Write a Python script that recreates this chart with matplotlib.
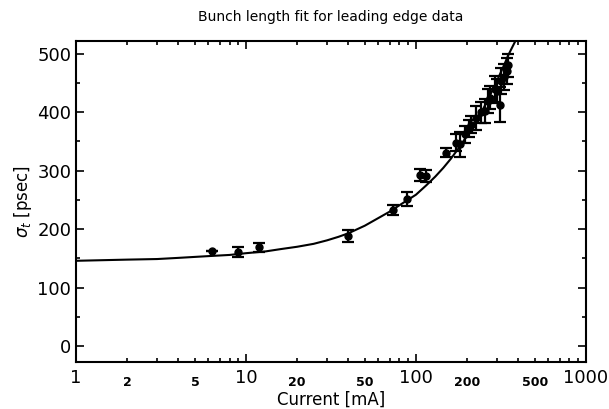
import numpy as np
import matplotlib
matplotlib.use("Agg")
import matplotlib.pyplot as plt
from matplotlib.ticker import FixedLocator, NullFormatter, MultipleLocator

# fit curve
fit_current = [1, 2, 3, 4, 6, 8, 10, 13, 16, 20, 25, 30, 35, 40, 50, 60, 70, 80,
               100, 115, 130, 145, 160, 180, 200, 225, 250, 275, 300, 325, 350, 370, 385]
fit_sigma = [146, 148, 149, 151, 154, 156, 159, 162, 166, 170, 175, 181, 187, 193,
             206, 219, 230, 241, 259, 275, 290, 305, 320, 340, 360, 384, 407, 431,
             454, 476, 498, 512, 522]

# measured points
current = [6.3, 9.0, 11.9, 40, 73, 88, 106, 114, 151, 172, 181, 194, 205, 212, 225,
           240, 254, 265, 272, 290, 298, 311, 318, 330, 342, 350]
sigma = [162, 161, 169, 188, 233, 251, 293, 291, 331, 348, 345, 362, 372, 379, 390,
         400, 402, 419, 425, 440, 436, 413, 453, 460, 470, 480]
sigma_err = [0, 8, 8, 10, 8, 12, 10, 10, 8, 15, 22, 15, 15, 15, 20,
             18, 20, 20, 20, 22, 20, 30, 22, 22, 22, 20]

major_x = [1, 10, 100, 1000]
minor_x_labels = [2, 5, 20, 50, 200, 500]

fig = plt.figure(figsize=(6.09, 4.09), dpi=100)
ax = fig.add_axes([0.125, 0.115, 0.837, 0.785])

ax.plot(fit_current, fit_sigma, color="black", lw=1.5)
ax.errorbar(current, sigma, yerr=sigma_err, fmt="o", color="black", ms=5,
            elinewidth=1.6, capsize=4, capthick=1.6)

ax.set_xscale("log")
ax.set_xlim(1, 1000)
ax.set_ylim(-27, 522)

ax.xaxis.set_major_locator(FixedLocator(major_x))
ax.set_xticklabels([str(v) for v in major_x], fontsize=13)
minors = [m * d for d in [1, 10, 100] for m in range(2, 10)]
ax.xaxis.set_minor_locator(FixedLocator(minors))
ax.xaxis.set_minor_formatter(NullFormatter())
for v in minor_x_labels:
    ax.text(v, -0.045, str(v), transform=ax.get_xaxis_transform(),
            ha="center", va="top", fontsize=9, fontweight="bold")

ax.yaxis.set_major_locator(MultipleLocator(100))
ax.yaxis.set_minor_locator(MultipleLocator(50))
ax.tick_params(axis="y", labelsize=13)

ax.tick_params(which="both", direction="in", top=True, right=True, width=1.2)
ax.tick_params(which="major", length=6)
ax.tick_params(which="minor", length=3)
ax.tick_params(axis="x", which="major", pad=5)

for s in ax.spines.values():
    s.set_linewidth(1.5)

ax.set_title("Bunch length fit for leading edge data", fontsize=10, pad=14)
ax.set_xlabel("Current [mA]", fontsize=12, labelpad=3)
ax.set_ylabel(r"$\sigma_t$ [psec]", fontsize=12, labelpad=2)

fig.savefig("out.png", dpi=100)
